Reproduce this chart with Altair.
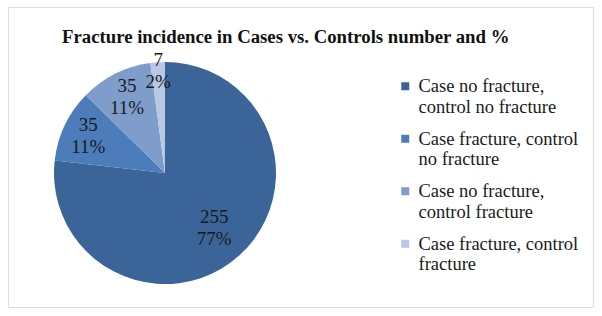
import altair as alt
import pandas as pd

categories = [
    "Case no fracture, control no fracture",
    "Case fracture, control no fracture",
    "Case no fracture, control fracture",
    "Case fracture, control fracture",
]
label_lines = [
    ["Case no fracture,", "control no fracture"],
    ["Case fracture, control", "no fracture"],
    ["Case no fracture,", "control fracture"],
    ["Case fracture, control", "fracture"],
]
counts = [255, 35, 35, 7]
percents = ["77%", "11%", "11%", "2%"]
colors = ["#3B6499", "#4C7DBA", "#7F9DCB", "#B9C8E2"]

df = pd.DataFrame({
    "category": categories,
    "count": counts,
    "pct": percents,
    "idx": list(range(len(categories))),
})

FONT = "Liberation Serif"

label_expr = ""
for cat, lines in zip(categories, label_lines):
    arr = "[" + ",".join("'" + l + "'" for l in lines) + "]"
    label_expr += f"datum.label == '{cat}' ? {arr} : "
label_expr += "datum.label"

cx, cy, R = 157, 166, 111

pie = alt.Chart(df).mark_arc(radius=R).encode(
    theta=alt.Theta("count:Q", stack=True),
    order=alt.Order("idx:O"),
    x=alt.value(cx),
    y=alt.value(cy),
    color=alt.Color(
        "category:N",
        sort=categories,
        scale=alt.Scale(domain=categories, range=colors),
        legend=alt.Legend(
            title=None,
            orient="none",
            legendX=388,
            legendY=70,
            symbolType="square",
            symbolSize=64,
            symbolStrokeWidth=0,
            labelFont=FONT,
            labelFontSize=18.5,
            labelColor="#1a1a1a",
            labelLimit=400,
            labelExpr=label_expr,
            labelBaseline="middle",
            labelOffset=4,
            rowPadding=12.5,
        ),
    ),
)

# label positions: mid-angle of each slice, placed inside the slice
lab_base = alt.Chart(df).transform_window(
    cum="sum(count)", sort=[alt.SortField("idx")]
).transform_joinaggregate(
    total="sum(count)"
).transform_calculate(
    mid="2 * PI * (datum.cum - datum.count / 2) / datum.total",
    lr="datum.count > 100 ? 74 : (datum.count < 20 ? 102 : 85)",
).transform_calculate(
    lx=f"{cx} + datum.lr * sin(datum.mid)",
    ly=f"{cy} - datum.lr * cos(datum.mid)",
).encode(
    x=alt.X("lx:Q", scale=None, axis=None),
    y=alt.Y("ly:Q", scale=None, axis=None),
)

txt1 = lab_base.mark_text(font=FONT, fontSize=19, color="#1a1a1a", dy=-11).encode(
    text=alt.Text("count:Q"),
)
txt2 = lab_base.mark_text(font=FONT, fontSize=19, color="#1a1a1a", dy=11).encode(
    text=alt.Text("pct:N"),
)

chart = alt.layer(pie, txt1, txt2).properties(
    width=585,
    height=300,
    padding={"left": 8, "top": 7, "right": 9, "bottom": 9},
    autosize=alt.AutoSizeParams(type="none"),
    title=alt.TitleParams(
        "Fracture incidence in Cases vs. Controls number and %",
        font=FONT,
        fontSize=18.75,
        fontWeight="bold",
        color="#111111",
        anchor="start",
        frame="group",
        dx=54,
        dy=44,
    ),
).configure_view(stroke="#a0a0a0", strokeWidth=1.5).configure(background="white")

chart.save("out.html", embed_options={"renderer": "svg", "actions": False})
